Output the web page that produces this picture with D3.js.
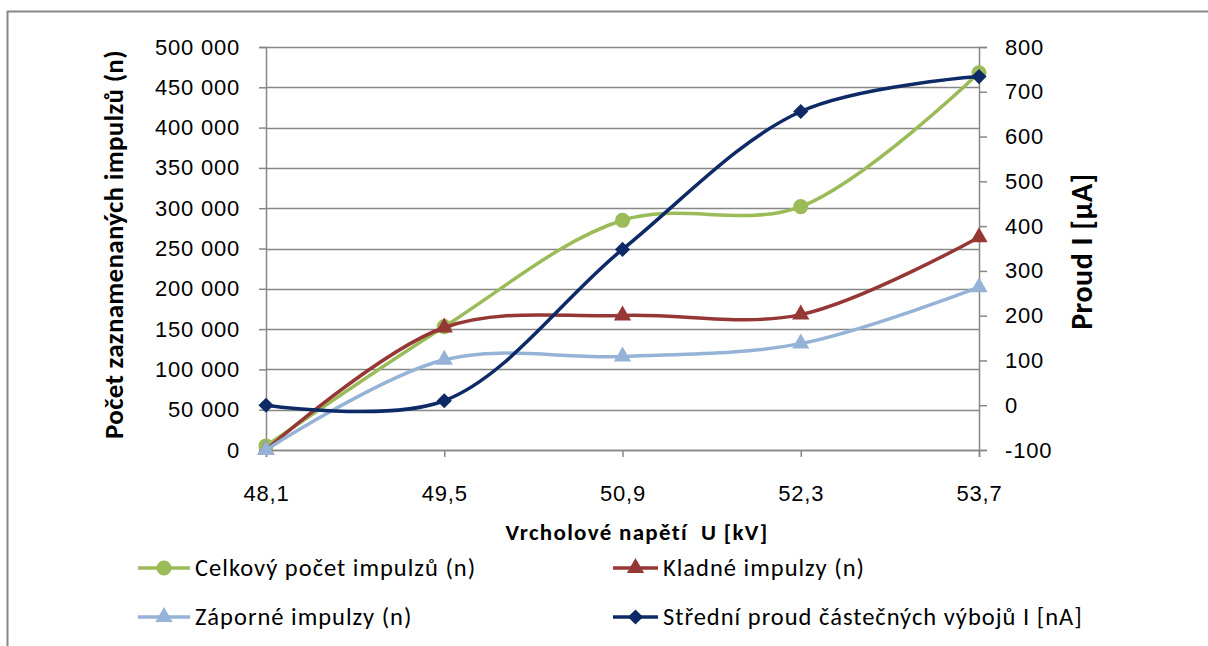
<!DOCTYPE html>
<html>
<head>
<meta charset="utf-8">
<script src="https://cdn.jsdelivr.net/npm/d3@7"></script>
<style>
  body { margin: 0; background: #fff; }
  svg { font-family: Calibri, Carlito, Lato, "Open Sans", sans-serif; }
</style>
</head>
<body>
<div id="chart"></div>
<script>
// categories (peak voltage, kV)
const categories = ['48,1', '49,5', '50,9', '52,3', '53,7'];

// series
const celkovy = [5000, 153000, 285000, 302000, 468000];
const kladne = [0, 152000, 167000, 168000, 264000];
const zaporne = [0, 112000, 116000, 132000, 202000];
const proud = [0, 10, 348, 656, 734];

const leftTicks = d3.range(0, 500001, 50000);
const rightTicks = d3.range(-100, 801, 100);

const config = {
  w: 1208,
  h: 646,
  margin: { top: 47, right: 229, bottom: 196, left: 266 },
};

const plotW = config.w - config.margin.left - config.margin.right;
const plotH = config.h - config.margin.top - config.margin.bottom;

d3.select('#chart').select('svg').remove();

let svg = d3
  .select('#chart')
  .append('svg')
  .attr('width', config.w)
  .attr('height', config.h);

// outer chart frame, cut off on right and bottom like the original
svg
  .append('rect')
  .attr('x', 7.5)
  .attr('y', 11.5)
  .attr('width', 1220)
  .attr('height', 660)
  .style('fill', 'none')
  .style('stroke', '#878787')
  .style('stroke-width', 2);

let g = svg
  .append('g')
  .attr('transform', `translate(${config.margin.left},${config.margin.top})`);

let x = d3.scalePoint().domain(categories).range([0, plotW]);
let yLeft = d3.scaleLinear().domain([0, 500000]).range([plotH, 0]);
let yRight = d3.scaleLinear().domain([-100, 800]).range([plotH, 0]);

const fmt = (v) => d3.format(',')(v).replace(/,/g, ' ');

// gridlines
g.append('g')
  .selectAll('line')
  .data(leftTicks)
  .enter()
  .append('line')
  .attr('x1', 0)
  .attr('x2', plotW)
  .attr('y1', (d) => Math.round(yLeft(d)) + 0.5)
  .attr('y2', (d) => Math.round(yLeft(d)) + 0.5)
  .style('stroke', '#878787')
  .style('stroke-width', 1.5);

function styleAxis(ax) {
  ax.select('.domain').attr('stroke', '#878787').attr('stroke-width', 1.5);
  ax.selectAll('.tick line').attr('stroke', '#878787').attr('stroke-width', 1.5);
  ax.selectAll('.tick text')
    .attr('font-size', 22)
    .attr('letter-spacing', 0.8)
    .attr('fill', '#000');
}

// left axis
let axL = g
  .append('g')
  .call(d3.axisLeft(yLeft).tickValues(leftTicks).tickFormat(fmt).tickSize(7).tickPadding(19));
styleAxis(axL);

// right axis
let axR = g
  .append('g')
  .attr('transform', `translate(${plotW},0)`)
  .call(
    d3.axisRight(yRight)
      .tickValues(rightTicks)
      .tickFormat((d) => String(d))
      .tickSize(8)
      .tickPadding(18),
  );
styleAxis(axR);

// bottom axis
let axB = g
  .append('g')
  .attr('transform', `translate(0,${plotH})`)
  .call(d3.axisBottom(x).tickSize(7).tickPadding(28));
styleAxis(axB);

// axis titles
svg
  .append('text')
  .attr('transform', `translate(123,${config.margin.top + plotH / 2 - 4}) rotate(-90)`)
  .attr('text-anchor', 'middle')
  .attr('font-size', 27)
  .attr('letter-spacing', 0.3)
  .attr('font-weight', 'bold')
  .text('Počet zaznamenaných impulzů (n)');

svg
  .append('text')
  .attr('transform', `translate(1092,${config.margin.top + plotH / 2 + 3}) rotate(-90)`)
  .attr('text-anchor', 'middle')
  .attr('font-size', 30)
  .attr('letter-spacing', 0.5)
  .attr('font-weight', 'bold')
  .text('Proud I [µA]');

svg
  .append('text')
  .attr('x', 637)
  .attr('y', 540)
  .attr('text-anchor', 'middle')
  .attr('font-size', 23)
  .attr('letter-spacing', 1.3)
  .attr('font-weight', 'bold')
  .style('white-space', 'pre')
  .text('Vrcholové napětí  U [kV]');

const series = [
  { name: 'Celkový počet impulzů (n)', values: celkovy, color: '#9BBB59', marker: 'circle', axis: yLeft },
  { name: 'Kladné impulzy (n)', values: kladne, color: '#953735', marker: 'triangle', axis: yLeft },
  { name: 'Záporné impulzy (n)', values: zaporne, color: '#95B3D7', marker: 'triangle', axis: yLeft },
  { name: 'Střední proud částečných výbojů I [nA]', values: proud, color: '#0D2A66', marker: 'diamond', axis: yRight },
];

const symbolFor = (m) => {
  if (m === 'circle') return d3.symbol().type(d3.symbolCircle).size(180)();
  if (m === 'triangle') return d3.symbol().type(d3.symbolTriangle).size(130)();
  return d3.symbol().type(d3.symbolSquare).size(115)();
};
const rotFor = (m) => (m === 'diamond' ? ' rotate(45)' : '');

series.forEach((s) => {
  let line = d3
    .line()
    .x((d, i) => x(categories[i]))
    .y((d) => s.axis(d))
    .curve(d3.curveCatmullRom.alpha(0.5));

  g.append('path')
    .datum(s.values)
    .attr('d', line)
    .style('fill', 'none')
    .style('stroke', s.color)
    .style('stroke-width', 3.5);

  g.append('g')
    .selectAll('path')
    .data(s.values)
    .enter()
    .append('path')
    .attr('d', symbolFor(s.marker))
    .attr('transform', (d, i) => `translate(${x(categories[i])},${s.axis(d)})${rotFor(s.marker)}`)
    .style('fill', s.color);
});

// legend
const legendPos = [
  { x: 138, y: 568, len: 52 },
  { x: 613, y: 568, len: 45 },
  { x: 138, y: 617, len: 52 },
  { x: 613, y: 617, len: 45 },
];

series.forEach((s, i) => {
  let p = legendPos[i];
  let lg = svg.append('g').attr('transform', `translate(${p.x},${p.y})`);
  lg.append('line')
    .attr('x1', 0)
    .attr('x2', p.len)
    .attr('y1', 0)
    .attr('y2', 0)
    .style('stroke', s.color)
    .style('stroke-width', 3.5);
  lg.append('path')
    .attr('d', symbolFor(s.marker))
    .attr('transform', `translate(${p.len / 2},0)${rotFor(s.marker)}`)
    .style('fill', s.color);
  lg.append('text')
    .attr('x', p.len + 5)
    .attr('y', 8)
    .attr('font-size', 24.5)
    .attr('letter-spacing', 1.0)
    .text(s.name);
});
</script>
</body>
</html>
